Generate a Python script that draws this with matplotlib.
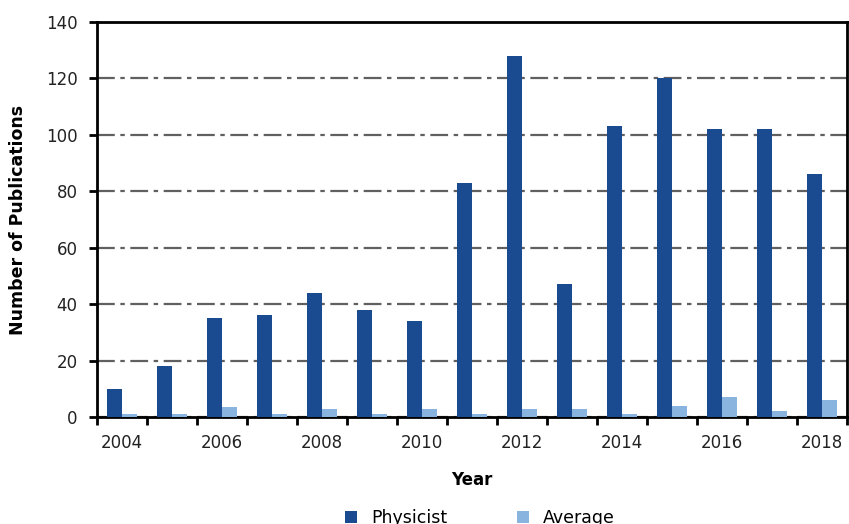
import numpy as np
import matplotlib
matplotlib.use('Agg')
from matplotlib import pyplot as plt

years = [2004, 2005, 2006, 2007, 2008, 2009, 2010, 2011, 2012, 2013, 2014, 2015, 2016, 2017, 2018]
physicist = [10, 18, 35, 36, 44, 38, 34, 83, 128, 47, 103, 120, 102, 102, 86]
average = [1, 1, 3.6, 1, 3, 1, 3, 1, 3, 3, 1, 4, 7, 2, 6]

dark = '#1a4a8f'
light = '#8ab4e0'

plt.rcParams['font.family'] = ['DejaVu Sans']

fig = plt.figure(figsize=(8.49, 5.24), dpi=100)
ax = fig.add_axes([0.1143, 0.2042, 0.8833, 0.7538])

x = np.arange(len(years))
w = 0.3
ax.bar(x - w / 2, physicist, w, color=dark, label='Physicist', zorder=3)
ax.bar(x + w / 2, average, w, color=light, label='Average', zorder=3)

ax.set_xlim(-0.5, len(years) - 0.5)
ax.set_ylim(0, 140)
ax.set_yticks(range(0, 141, 20))
ax.grid(axis='y', color='#606060', linestyle='-.', linewidth=1.6, dashes=(8, 2.5, 2, 2.5), zorder=1)

# labels at centres every 2 years, ticks on the category boundaries
ax.set_xticks(x[::2])
ax.set_xticklabels([str(y) for y in years[::2]])
ax.set_xticks(np.arange(-0.5, len(years)), minor=True)
ax.tick_params(axis='x', which='major', length=0, pad=12, labelsize=12, labelcolor='#222222')
ax.tick_params(axis='x', which='minor', length=6, width=2, color='black')
ax.tick_params(axis='y', length=6, width=2, pad=8, labelsize=12, labelcolor='#222222', color='black')

for s in ax.spines.values():
    s.set_linewidth(2)
    s.set_color('black')

ax.set_xlabel('Year', fontsize=12, fontweight='bold')
ax.set_ylabel('Number of Publications', fontsize=12.5, fontweight='bold')
ax.xaxis.set_label_coords(0.5, -0.137)
ax.yaxis.set_label_coords(-0.094, 0.5)

fig.legend(loc='center', bbox_to_anchor=(0.565, 0.012), ncol=2, frameon=False,
           handlelength=0.7, handleheight=0.7, columnspacing=4.0, fontsize=12.5)

fig.savefig('out.png', dpi=100)
